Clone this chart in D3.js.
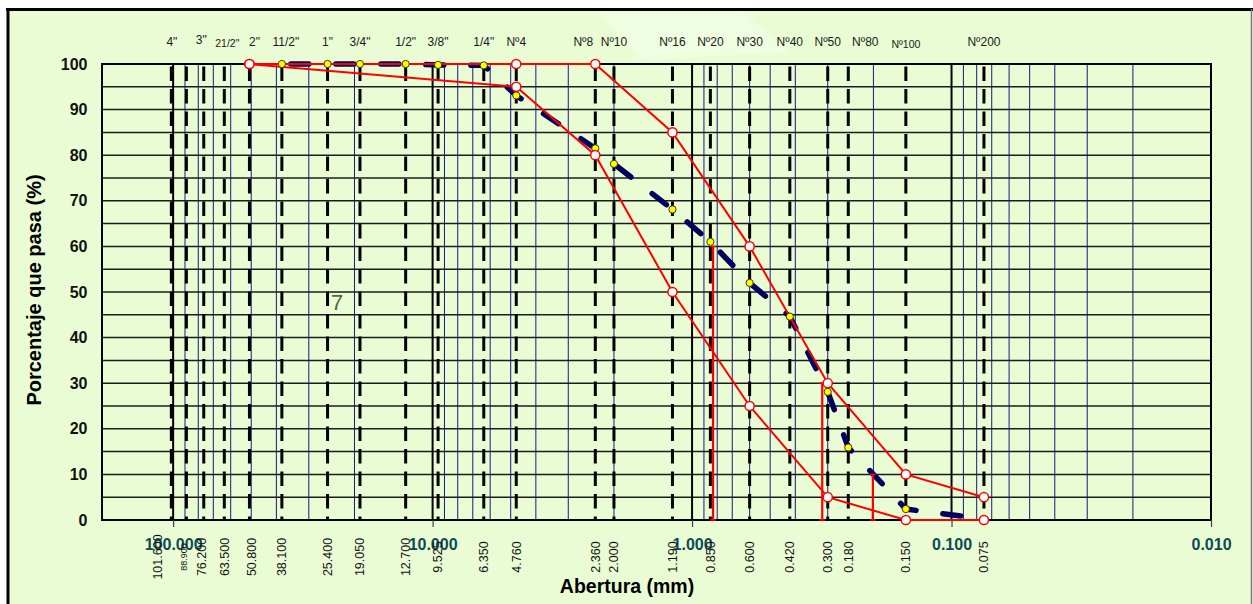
<!DOCTYPE html>
<html>
<head>
<meta charset="utf-8">
<script src="https://cdn.jsdelivr.net/npm/d3@7"></script>
<style>
  html, body { margin: 0; padding: 0; background: #ffffff; }
  svg { display: block; }
  text { font-family: Arial, "Liberation Sans", sans-serif; }
</style>
</head>
<body>
<svg id="chart" width="1253" height="604"></svg>
<script>
// Sieve openings (mm) as placed on the chart, the printed opening and the sieve name
const sieveOpenings = [101.6, 88.9, 76.2, 63.5, 50.8, 38.1, 25.4, 19.05, 12.7, 9.525, 6.35, 4.76,
                       2.36, 2.0, 1.19, 0.85, 0.6, 0.42, 0.3, 0.25, 0.15, 0.075];
const openingLabels = ["101.600", "88.900", "76.200", "63.500", "50.800", "38.100", "25.400", "19.050",
                       "12.700", "9.525", "6.350", "4.760", "2.360", "2.000", "1.190", "0.850", "0.600",
                       "0.420", "0.300", "0.180", "0.150", "0.075"];
const sieveNames = ['4"', '', '3"', '21/2"', '2"', '11/2"', '1"', '3/4"', '1/2"', '3/8"', '1/4"', 'Nº4',
                    'Nº8', 'Nº10', 'Nº16', 'Nº20', 'Nº30', 'Nº40', 'Nº50', 'Nº80', 'Nº100', 'Nº200'];

// Sample grading: percent passing on each sieve (null = not tested)
const samplePassing = [null, null, null, null, null, 100, 100, 100, 100, 99.8, 99.7, 93.1,
                       81.5, 78.1, 68.1, 61.0, 52.0, 44.6, 28.1, 15.9, 2.4, 0.2];

// Specification band (upper / lower limits)
const bandSieves = [50.8, 4.76, 2.36, 1.19, 0.6, 0.3, 0.15, 0.075];
const upperLimit = [100, 100, 100, 85, 60, 30, 10, 5];
const lowerLimit = [100, 95, 80, 50, 25, 5, 0, 0];

// Characteristic diameters D60, D30, D10
const dSizes = [0.83, 0.315, 0.201];
const dPercents = [60, 30, 10];

// Axis ticks
const decadeTicks = [100, 10, 1, 0.1, 0.01];
const percentTicks = [0, 10, 20, 30, 40, 50, 60, 70, 80, 90, 100];
const gridPercents = d3.range(5, 100, 5);

const svg = d3.select("#chart");
const W = 1253, H = 604;
const plot = { left: 102, right: 1211, top: 64, bottom: 520 };

const x = d3.scaleLog().domain([188, 0.01]).range([plot.left, plot.right]);
const y = d3.scaleLinear().domain([0, 100]).range([plot.bottom, plot.top]);

// Page frame and background
svg.append("rect").attr("x", 8).attr("y", 9).attr("width", W - 9).attr("height", H)
  .attr("fill", "#e9fcd4");
svg.append("polygon")
  .attr("points", "598,11 742,11 790,52 640,60")
  .attr("fill", "#ffffff").attr("opacity", 0.28);
svg.append("line").attr("x1", 6).attr("x2", W).attr("y1", 9.5).attr("y2", 9.5)
  .attr("stroke", "#000").attr("stroke-width", 3);
svg.append("line").attr("x1", 8).attr("x2", 8).attr("y1", 8).attr("y2", H)
  .attr("stroke", "#000").attr("stroke-width", 3);
svg.append("line").attr("x1", 1251.5).attr("x2", 1251.5).attr("y1", 9).attr("y2", H)
  .attr("stroke", "#777").attr("stroke-width", 1.5);

const g = svg.append("g");

// Minor logarithmic grid (2..9 in each decade)
const minor = x.ticks().filter(v => {
  const m = v / Math.pow(10, Math.floor(Math.log10(v) + 1e-9));
  return Math.round(m) !== 1 && v < 100;
});
g.selectAll(".minor").data(minor).join("line")
  .attr("x1", d => x(d)).attr("x2", d => x(d))
  .attr("y1", plot.top).attr("y2", plot.bottom)
  .attr("stroke", "#1a1a80").attr("stroke-width", 1);

// Horizontal grid every 5 %
g.selectAll(".hgrid").data(gridPercents).join("line")
  .attr("x1", plot.left).attr("x2", plot.right)
  .attr("y1", d => y(d)).attr("y2", d => y(d))
  .attr("stroke", "#1c1c1c").attr("stroke-width", 1.5);

// Decade lines
g.selectAll(".major").data(decadeTicks.filter(d => d > 0.01)).join("line")
  .attr("x1", d => x(d)).attr("x2", d => x(d))
  .attr("y1", plot.top).attr("y2", plot.bottom)
  .attr("stroke", "#000").attr("stroke-width", 2);

// Sieve lines (dashed)
g.selectAll(".sieve").data(sieveOpenings).join("line")
  .attr("x1", d => x(d)).attr("x2", d => x(d))
  .attr("y1", plot.top).attr("y2", plot.bottom)
  .attr("stroke", "#000").attr("stroke-width", 3)
  .attr("stroke-dasharray", "14.5 8").attr("stroke-dashoffset", -2.5);

// Plot border
g.append("rect").attr("x", plot.left).attr("y", plot.top)
  .attr("width", plot.right - plot.left).attr("height", plot.bottom - plot.top)
  .attr("fill", "none").attr("stroke", "#000").attr("stroke-width", 2);

// Bottom axis: decade values
const xAxis = d3.axisBottom(x).tickValues(decadeTicks).tickFormat(d3.format(".3f"))
  .tickSize(7).tickPadding(12);
const xa = svg.append("g").attr("transform", `translate(0,${plot.bottom})`).call(xAxis);
xa.select(".domain").remove();
xa.selectAll(".tick line").attr("stroke", "#444").attr("stroke-width", 1.2);
xa.selectAll(".tick text")
  .attr("fill", "#0c4a55").attr("font-size", 16).attr("font-weight", "bold")
  .attr("font-family", "Arial, 'Liberation Sans', sans-serif");

// Left axis: percent passing
const yAxis = d3.axisLeft(y).tickValues(percentTicks).tickSize(0).tickPadding(14.5);
const ya = svg.append("g").attr("transform", `translate(${plot.left},0)`).call(yAxis);
ya.select(".domain").remove();
ya.selectAll(".tick text")
  .attr("fill", "#111").attr("font-size", 16).attr("font-weight", "bold")
  .attr("font-family", "Arial, 'Liberation Sans', sans-serif");

// Opening labels, rotated under the axis
const openNudge = { "101.600": -13.5, "88.900": -2.5, "76.200": -2.5, "50.800": 2.5 };
const openSmall = { "88.900": true };
svg.selectAll(".open").data(sieveOpenings).join("text")
  .attr("transform", (d, i) => {
    const lx = x(d) + (openNudge[openingLabels[i]] || 0);
    return `translate(${lx},557) rotate(-90)`;
  })
  .attr("text-anchor", "middle").attr("dy", "0.35em")
  .attr("font-size", (d, i) => openSmall[openingLabels[i]] ? 9 : 12.5)
  .attr("fill", "#111")
  .text((d, i) => openingLabels[i]);

// Sieve names along the top
const nameNudge = { 'Nº8': -12, 'Nº80': 17, '2"': 5, '3"': -2.5, '11/2"': 4, '21/2"': 3, '4"': 0.5 };
const nameSmall = { '21/2"': true, 'Nº100': true };
const nameLift = { '3"': -2, '21/2"': 1.5, 'Nº100': 2.5 };
svg.selectAll(".name").data(sieveOpenings).join("text")
  .attr("x", (d, i) => x(d) + (nameNudge[sieveNames[i]] || 0))
  .attr("y", (d, i) => 45.5 + (nameLift[sieveNames[i]] || 0))
  .attr("text-anchor", "middle")
  .attr("font-size", (d, i) => nameSmall[sieveNames[i]] ? 10.5 : 12)
  .attr("fill", "#1a1a1a")
  .text((d, i) => sieveNames[i]);

// Sample curve (dashed navy with yellow points)
const samplePts = sieveOpenings.map((d, i) => [d, samplePassing[i]]).filter(p => p[1] !== null);
const line = d3.line().x(p => x(p[0])).y(p => y(p[1]));
g.append("path").attr("d", line(samplePts))
  .attr("fill", "none").attr("stroke", "#00005f").attr("stroke-width", 5.5)
  .attr("stroke-linecap", "round").attr("stroke-dasharray", "18 27")
  .attr("stroke-dashoffset", -9);

// Specification limits
const upperPts = bandSieves.map((d, i) => [d, upperLimit[i]]);
const lowerPts = bandSieves.map((d, i) => [d, lowerLimit[i]]);
[upperPts, lowerPts].forEach(pts => {
  g.append("path").attr("d", line(pts))
    .attr("fill", "none").attr("stroke", "#ff0000").attr("stroke-width", 2);
});

// D60 / D30 / D10 markers
dSizes.forEach((d, i) => {
  const lx = x(d);
  g.append("line").attr("x1", lx).attr("x2", lx)
    .attr("y1", y(0)).attr("y2", y(dPercents[i]))
    .attr("stroke", "#ff0000").attr("stroke-width", 2.2);
  [0, dPercents[i]].forEach(v => {
    g.append("line").attr("x1", lx - 3).attr("x2", lx + 3)
      .attr("y1", y(v)).attr("y2", y(v))
      .attr("stroke", "#ff0000").attr("stroke-width", 1.5);
  });
});

// Sample points
g.selectAll(".spt").data(samplePts).join("circle")
  .attr("cx", p => x(p[0])).attr("cy", p => y(p[1])).attr("r", 3.6)
  .attr("fill", "#ffff00").attr("stroke", "#3a3a10").attr("stroke-width", 1);

// Limit points
g.selectAll(".lpt").data(upperPts.concat(lowerPts)).join("circle")
  .attr("cx", p => x(p[0])).attr("cy", p => y(p[1])).attr("r", 4.6)
  .attr("fill", "#ffffff").attr("stroke", "#ff0000").attr("stroke-width", 1.5);

// Stray cell label
svg.append("text").attr("x", 337).attr("y", 310).attr("text-anchor", "middle")
  .attr("font-size", 22).attr("fill", "#56663a").text("7");

// Axis titles
svg.append("text")
  .attr("transform", "translate(41,290) rotate(-90)")
  .attr("text-anchor", "middle").attr("font-size", 20).attr("font-weight", "bold")
  .attr("fill", "#000").text("Porcentaje que pasa (%)");
svg.append("text")
  .attr("x", 627).attr("y", 593).attr("text-anchor", "middle")
  .attr("font-size", 19.5).attr("font-weight", "bold").attr("fill", "#000")
  .text("Abertura (mm)");
</script>
</body>
</html>
